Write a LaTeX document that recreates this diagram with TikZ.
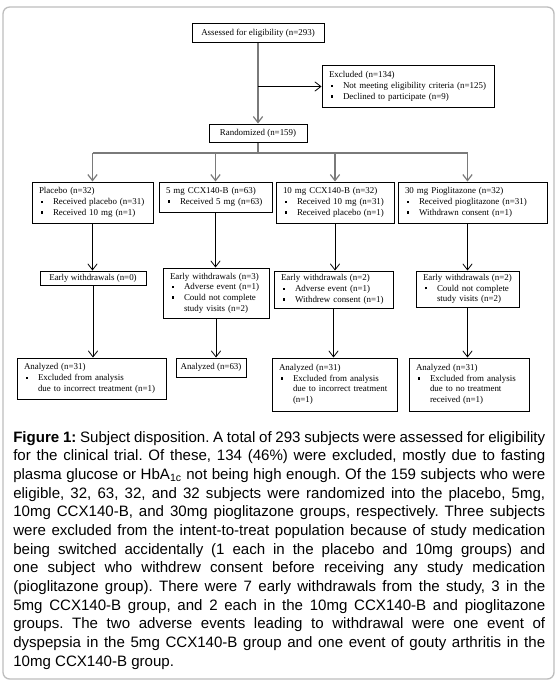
\documentclass[tikz,border=0pt]{standalone}
\usepackage{fontspec}
\setmainfont{Liberation Serif}
\newfontfamily\capfont{Liberation Sans}
\usetikzlibrary{arrows.meta, positioning}
\definecolor{cFrame}{HTML}{BDBDBD}
\definecolor{cTrunk}{HTML}{7A7A7A}
\newcommand{\bul}{\makebox[10.5pt][l]{\hspace{1.5pt}\rule[1.3pt]{1.8pt}{1.8pt}}}
\newcommand{\ind}{\hspace*{10.5pt}}
\frenchspacing

\begin{document}
\begin{tikzpicture}[x=0.75pt, y=-0.75pt,
  box/.style={draw, line width=0.75pt, inner xsep=2pt, inner ysep=1.5pt, font=\fontsize{6.7}{8}\selectfont},
  lbox/.style={box, inner xsep=5.25pt, align=left, text width=#1},
  arr/.style={-{Straight Barb[length=4.5pt,width=7pt]}, line width=0.6pt},
  trunk/.style={cTrunk, line width=0.9pt},
  captxt/.style={font=\capfont\fontsize{11.3}{14}\selectfont, text width=399pt, align=justify, inner sep=0pt}
]
\useasboundingbox (0,0) rectangle (558,685);
\draw[cFrame, line width=1pt, rounded corners=5pt] (3,7) rectangle (554,679);

% screening
\node[box, minimum width=99pt, minimum height=14.25pt] (assess) at (258,33.5) {Assessed for eligibility (n=293)};
\node[lbox=118.5pt, minimum height=30.75pt] (excl) at (408,86.5) {Excluded (n=134)\\\bul Not meeting eligibility criteria (n=125)\\\bul Declined to participate (n=9)};
\node[box, minimum width=73.5pt, minimum height=13.5pt] (rand) at (258,133) {Randomized (n=159)};

% allocation
\node[lbox=80.25pt, minimum height=30.75pt] (plac) at (92.5,202.5) {Placebo (n=32)\\\bul Received placebo (n=31)\\\bul Received 10 mg (n=1)};
\node[lbox=74.25pt, minimum height=22.5pt] (five) at (215.5,197) {5 mg CCX140-B (n=63)\\\bul Received 5 mg (n=63)};
\node[lbox=78pt, minimum height=30.75pt] (ten) at (335,202.5) {10 mg CCX140-B (n=32)\\\bul Received 10 mg (n=31)\\\bul Received placebo (n=1)};
\node[lbox=101.25pt, minimum height=30.75pt] (pio) at (472.5,202.5) {30 mg Pioglitazone (n=32)\\\bul Received pioglitazone (n=31)\\\bul Withdrawn consent (n=1)};

% follow-up
\node[box, minimum width=79.5pt, minimum height=10.5pt] (ew1) at (93,278) {Early withdrawals (n=0)};
\node[lbox=69pt, minimum height=37.5pt] (ew2) at (216,293) {Early withdrawals (n=3)\\\bul Adverse event (n=1)\\\bul Could not complete\\\ind study visits (n=2)};
\node[lbox=78.75pt, minimum height=27.75pt] (ew3) at (333.5,289.5) {Early withdrawals (n=2)\\\bul Adverse event (n=1)\\\bul Withdrew consent (n=1)};
\node[lbox=66.75pt, minimum height=27pt] (ew4) at (467.5,289) {Early withdrawals (n=2)\\\bul Could not complete\\\ind study visits (n=2)};

% analysis
\node[lbox=101.25pt, minimum height=30.75pt] (an1) at (91.5,378.5) {Analyzed (n=31)\\\bul Excluded from analysis\\\ind due to incorrect treatment (n=1)};
\node[box, minimum width=52.5pt, minimum height=14.25pt] (an2) at (211,367.5) {Analyzed (n=63)};
\node[lbox=83.25pt, minimum height=39.75pt] (an3) at (334.5,384.5) {Analyzed (n=31)\\\bul Excluded from analysis\\\ind due to incorrect treatment\\\ind (n=1)};
\node[lbox=79.5pt, minimum height=39.75pt] (an4) at (469,384.5) {Analyzed (n=31)\\\bul Excluded from analysis\\\ind due to no treatment\\\ind received (n=1)};

% connectors
\draw[arr, trunk] (assess) -- (rand);
\coordinate (split) at (assess.south |- excl.west);
\draw[arr] (split) -- (excl);
\draw[trunk] (rand) -- ++(0,20) coordinate (br);
\draw[trunk] (plac.north |- br) -- (ew4.north |- br);
\foreach \g in {plac,five,ten} \draw[arr, trunk] (\g.north |- br) -- (\g.north);
\draw[arr, trunk] (ew4.north |- br) -- (ew4.north |- pio.north);
\foreach \a/\b in {plac/ew1, ew1/an1, five/ew2, ew2/an2, ten/ew3, ew3/an3, ew4/an4}
  \draw[arr] (\a.south) -- (\a.south |- \b.north);
\draw[arr] (ew4.north |- pio.south) -- (ew4.north);

% caption
\node[captxt, anchor=north west] (caption) at (13,431) {\hyphenpenalty=10000 \exhyphenpenalty=10000
\textbf{Figure 1:} Subject disposition. A total of 293 subjects were assessed for eligibility\linebreak
for the clinical trial. Of these, 134 (46\%) were excluded, mostly due to fasting\linebreak
plasma glucose or HbA\textsubscript{1c} not being high enough. Of the 159 subjects who were\linebreak
eligible, 32, 63, 32, and 32 subjects were randomized into the placebo, 5mg,\linebreak
10mg CCX140-B, and 30mg pioglitazone groups, respectively. Three subjects\linebreak
were excluded from the intent-to-treat population because of study medication\linebreak
being switched accidentally (1 each in the placebo and 10mg groups) and\linebreak
one subject who withdrew consent before receiving any study medication\linebreak
(pioglitazone group). There were 7 early withdrawals from the study, 3 in the\linebreak
5mg CCX140-B group, and 2 each in the 10mg CCX140-B and pioglitazone\linebreak
groups. The two adverse events leading to withdrawal were one event of\linebreak
dyspepsia in the 5mg CCX140-B group and one event of gouty arthritis in the\linebreak
10mg CCX140-B group.};
\end{tikzpicture}
\end{document}
